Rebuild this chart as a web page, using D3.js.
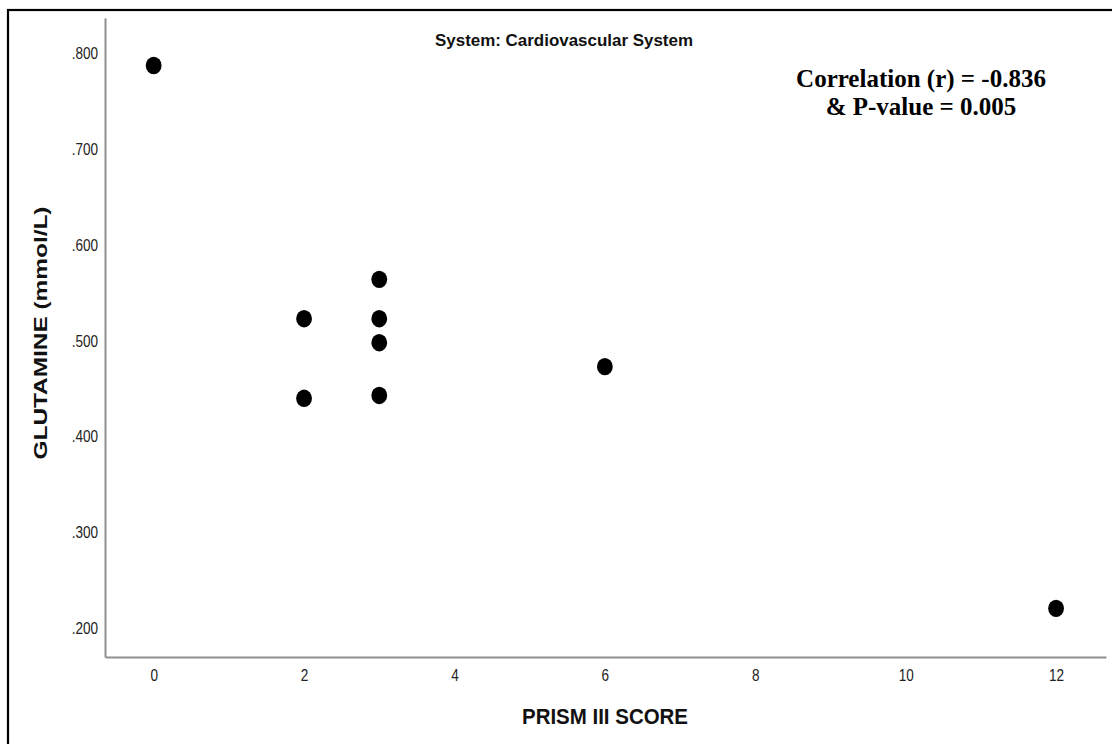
<!DOCTYPE html>
<html>
<head>
<meta charset="utf-8">
<script src="https://cdn.jsdelivr.net/npm/d3@7"></script>
<style>
  html, body { margin: 0; padding: 0; background: #fff; }
  svg { display: block; }
</style>
</head>
<body>
<svg id="chart" width="1112" height="744"></svg>
<script>
// PRISM III score vs glutamine, cardiovascular system subgroup
const prismScore = [0, 2, 2, 3, 3, 3, 3, 6, 12];
const glutamine  = [0.787, 0.523, 0.440, 0.564, 0.523, 0.498, 0.443, 0.473, 0.221];

const xTicks = [0, 2, 4, 6, 8, 10, 12];
const yTicks = [0.2, 0.3, 0.4, 0.5, 0.6, 0.7, 0.8];
const xDomain = [-0.647, 12.664];
const yDomain = [0.1703, 0.8365];

const titleText = "System: Cardiovascular System";
const statLines = ["Correlation (r) = -0.836", "& P-value = 0.005"];
const xLabel = "PRISM III SCORE";
const yLabel = "GLUTAMINE (mmol/L)";

const sans = "'Liberation Sans', Arial, sans-serif";
const serif = "'Liberation Serif', 'Times New Roman', serif";

const svg = d3.select("#chart");

// squeeze a text element horizontally to mimic a condensed face
function condense(sel, factor) {
  sel.each(function () {
    const w = this.getComputedTextLength();
    d3.select(this)
      .attr("textLength", w * factor)
      .attr("lengthAdjust", "spacingAndGlyphs");
  });
}

// frame
svg.append("rect")
  .attr("x", 8).attr("y", 10)
  .attr("width", 1120).attr("height", 760)
  .attr("fill", "none").attr("stroke", "#000").attr("stroke-width", 2.2);

const x = d3.scaleLinear().domain(xDomain).range([105, 1106]);
const y = d3.scaleLinear().domain(yDomain).range([657, 18]);

// axes
const axisColor = "#8f8f8f";
const xAxis = svg.append("g")
  .attr("transform", `translate(0,${y(yDomain[0])})`)
  .call(d3.axisBottom(x).tickValues(xTicks).tickSize(0).tickPadding(12).tickFormat(d3.format("d")));
const yAxis = svg.append("g")
  .attr("transform", `translate(${x(xDomain[0])},0)`)
  .call(d3.axisLeft(y).tickValues(yTicks).tickSize(0).tickPadding(7)
        .tickFormat(d => d3.format(".3f")(d).replace(/^0/, "")));

[xAxis, yAxis].forEach(g => {
  g.select(".domain").attr("stroke", axisColor).attr("stroke-width", 2);
  g.selectAll("text")
    .attr("font-family", sans)
    .attr("font-size", 16.5)
    .attr("fill", "#222")
    .call(condense, 0.82);
});

// points
svg.append("g")
  .selectAll("ellipse")
  .data(prismScore.map((p, i) => ({ p, g: glutamine[i] })))
  .join("ellipse")
  .attr("cx", d => x(d.p))
  .attr("cy", d => y(d.g))
  .attr("rx", 7.9)
  .attr("ry", 8.7)
  .attr("fill", "#000");

// title
svg.append("text")
  .attr("x", 564).attr("y", 46)
  .attr("text-anchor", "middle")
  .attr("font-family", sans)
  .attr("font-weight", "bold")
  .attr("font-size", 16)
  .attr("textLength", 258)
  .attr("lengthAdjust", "spacingAndGlyphs")
  .attr("fill", "#111")
  .text(titleText);

// correlation annotation
svg.append("g")
  .selectAll("text")
  .data(statLines)
  .join("text")
  .attr("x", 921)
  .attr("y", (d, i) => 87 + i * 27.5)
  .attr("text-anchor", "middle")
  .attr("font-family", serif)
  .attr("font-weight", "bold")
  .attr("font-size", 25)
  .attr("fill", "#000")
  .text(d => d);

// axis titles
svg.append("text")
  .attr("transform", "translate(605,724) scale(1,1.12)")
  .attr("text-anchor", "middle")
  .attr("font-family", sans)
  .attr("font-weight", "bold")
  .attr("font-size", 19)
  .attr("textLength", 166)
  .attr("lengthAdjust", "spacingAndGlyphs")
  .attr("fill", "#111")
  .text(xLabel);

svg.append("text")
  .attr("transform", "translate(47,333) rotate(-90)")
  .attr("text-anchor", "middle")
  .attr("font-family", sans)
  .attr("font-weight", "bold")
  .attr("font-size", 19)
  .attr("textLength", 253)
  .attr("lengthAdjust", "spacingAndGlyphs")
  .attr("fill", "#111")
  .text(yLabel);
</script>
</body>
</html>
